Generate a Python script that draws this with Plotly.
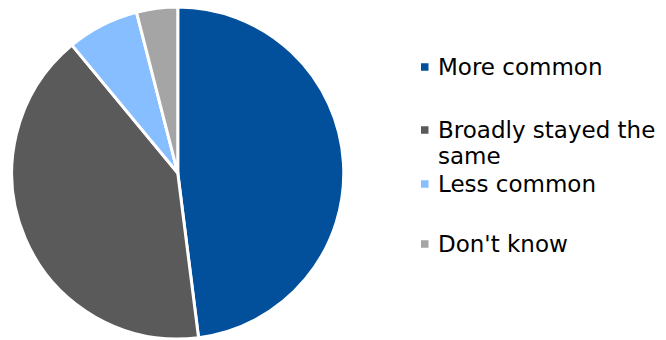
import plotly.graph_objects as go

labels = ["More common", "Broadly stayed the same", "Less common", "Don't know"]
values = [48, 41, 7, 4]
colors = ["#024F9C", "#5A5A5A", "#87BEFF", "#A5A5A5"]

# legend label lines (the second entry wraps onto two lines)
legend_lines = [["More common"], ["Broadly stayed the", "same"], ["Less common"], ["Don't know"]]

W, H = 666, 340

fig = go.Figure(go.Pie(
    labels=labels,
    values=values,
    sort=False,
    direction="clockwise",
    rotation=0,
    marker=dict(colors=colors, line=dict(color="white", width=3)),
    textinfo="none",
    hoverinfo="label+percent",
    showlegend=False,
    domain=dict(x=[11.5 / W, 344 / W], y=[1 - 339 / H, 1 - 7 / H]),
))

# Legend: square swatch + left-aligned label lines, each row positioned in pixels
row_y = [67, 130, 184, 244]
line_gap = 26
for lines, col, y in zip(legend_lines, colors, row_y):
    fig.add_shape(type="rect", xref="paper", yref="paper",
                  x0=421 / W, x1=428.5 / W, y0=1 - (y + 3.75) / H, y1=1 - (y - 3.75) / H,
                  fillcolor=col, line=dict(width=0))
    for i, txt in enumerate(lines):
        fig.add_annotation(xref="paper", yref="paper", x=437 / W, y=1 - (y + i * line_gap) / H,
                           xanchor="left", yanchor="middle", text=txt, showarrow=False,
                           align="left", borderpad=0,
                           font=dict(family="DejaVu Sans", size=23, color="#000000"))

fig.update_layout(
    width=W, height=H,
    margin=dict(l=0, r=0, t=0, b=0),
    paper_bgcolor="white",
    plot_bgcolor="white",
)

fig.write_html("out.html")
